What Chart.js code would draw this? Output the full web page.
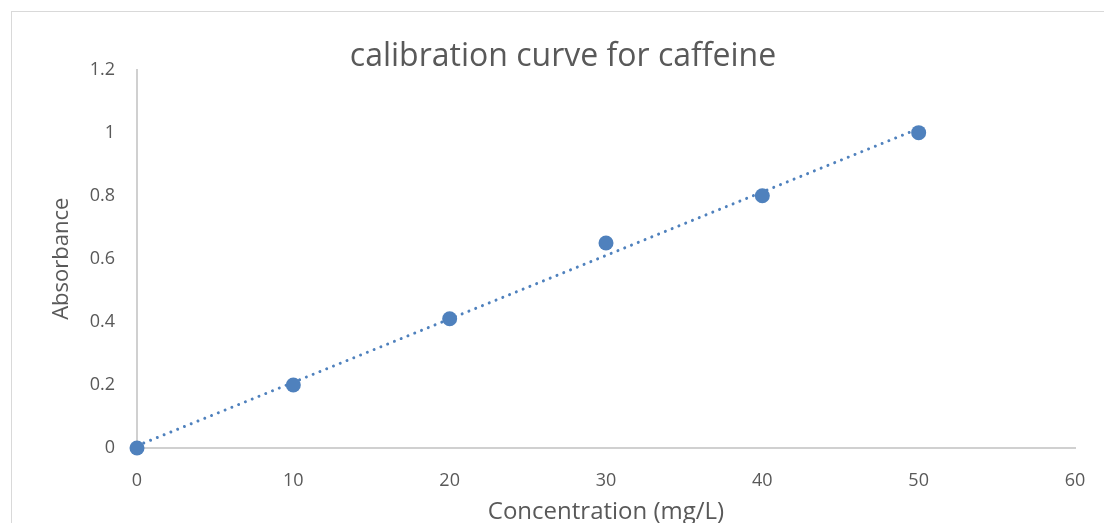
<!DOCTYPE html>
<html>
<head>
<meta charset="utf-8">
<title>calibration curve for caffeine</title>
<script src="https://cdn.jsdelivr.net/npm/chart.js@4.4.1/dist/chart.umd.min.js"></script>
<style>
  html, body { margin: 0; padding: 0; background: #fff; overflow: hidden; }
  #contenedor { position: relative; width: 1104px; height: 523px; }
  #marco { position: absolute; left: 11px; top: 11px; width: 1200px; height: 600px; border: 1px solid #d9d9d9; box-sizing: border-box; }
  #grafico { position: absolute; left: 0; top: 0; }
</style>
</head>
<body>
<div id="contenedor">
  <div id="marco"></div>
  <canvas id="grafico" width="1104" height="523"></canvas>
</div>
<script>
// datos
const concentracion = [0, 10, 20, 30, 40, 50];
const absorbancia = [0, 0.2, 0.41, 0.65, 0.8, 1.0];
const ticksX = [0, 10, 20, 30, 40, 50, 60];
const ticksY = [0, 0.2, 0.4, 0.6, 0.8, 1, 1.2];

const tituloGrafico = 'calibration curve for caffeine';
const tituloX = 'Concentration (mg/L)';
const tituloY = 'Absorbance';

const azul = '#4f81bd';
const gris = '#595959';
const fuente = "'Open Sans', sans-serif";

//funcion para la linea de tendencia (minimos cuadrados)
function tendenciaLineal(xs, ys) {
    const n = xs.length;
    const mx = xs.reduce((a, b) => a + b, 0) / n;
    const my = ys.reduce((a, b) => a + b, 0) / n;
    let num = 0, den = 0;
    xs.forEach((x, i) => {
        num += (x - mx) * (ys[i] - my);
        den += (x - mx) * (x - mx);
    });
    const m = num / den;
    const b = my - m * mx;
    const x0 = xs[0], x1 = xs[n - 1];
    return [{ x: x0, y: m * x0 + b }, { x: x1, y: m * x1 + b }];
}

const puntos = concentracion.map((x, i) => ({ x: x, y: absorbancia[i] }));
const tendencia = tendenciaLineal(concentracion, absorbancia);

const ctx = document.getElementById('grafico');

window.chart = new Chart(ctx.getContext('2d'), {
    type: 'scatter',
    data: {
        datasets: [{
            label: 'Absorbance',
            data: puntos,
            backgroundColor: azul,
            borderColor: azul,
            pointRadius: 7.5,
            pointBorderWidth: 0,
            clip: false
        }, {
            label: 'Linear',
            data: tendencia,
            showLine: true,
            pointRadius: 0,
            borderColor: azul,
            borderWidth: 3,
            borderDash: [0.01, 7.3],
            borderCapStyle: 'round',
            clip: false
        }]
    },
    options: {
        responsive: false,
        devicePixelRatio: 1,
        animation: false,
        layout: { padding: { left: 22, right: 0, top: 0, bottom: 0 } },
        plugins: {
            legend: { display: false },
            tooltip: { enabled: false },
            title: {
                display: true,
                text: tituloGrafico,
                color: gris,
                font: { family: fuente, size: 32, weight: 'normal', lineHeight: 0.8 },
                padding: { top: 44, bottom: 0 }
            }
        },
        scales: {
            x: {
                type: 'linear',
                position: 'bottom',
                min: 0,
                max: 60,
                afterBuildTicks: s => { s.ticks = ticksX.map(v => ({ value: v })); },
                afterFit: s => {
                    s.height = 75;
                    s.paddingLeft = 0;
                    s.paddingRight = 0;
                },
                grid: { display: false, drawTicks: false },
                border: { color: '#d0d0d0', width: 2 },
                ticks: { padding: 22, color: gris, font: { family: fuente, size: 18 }, callback: v => String(v) },
                title: {
                    display: true,
                    text: tituloX,
                    color: gris,
                    font: { family: fuente, size: 24, weight: 'normal' },
                    padding: { top: 0, bottom: -4 }
                }
            },
            y: {
                type: 'linear',
                position: 'left',
                min: 0,
                max: 1.2,
                afterBuildTicks: s => { s.ticks = ticksY.map(v => ({ value: v })); },
                afterFit: s => { s.width = 115; },
                grid: { display: false, drawTicks: false },
                border: { color: '#d0d0d0', width: 2 },
                ticks: { padding: 22, color: gris, font: { family: fuente, size: 18 }, callback: v => String(v) },
                title: {
                    display: true,
                    text: tituloY,
                    color: gris,
                    font: { family: fuente, size: 22, weight: 'normal' },
                    padding: { top: 27, bottom: 0 }
                }
            },
            // eje vacio a la derecha solo para dejar el margen
            y2: {
                type: 'linear',
                position: 'right',
                min: 0,
                max: 1,
                afterFit: s => { s.width = 29; },
                grid: { display: false, drawTicks: false },
                border: { display: false },
                ticks: { display: false }
            }
        }
    }
});
</script>
</body>
</html>
